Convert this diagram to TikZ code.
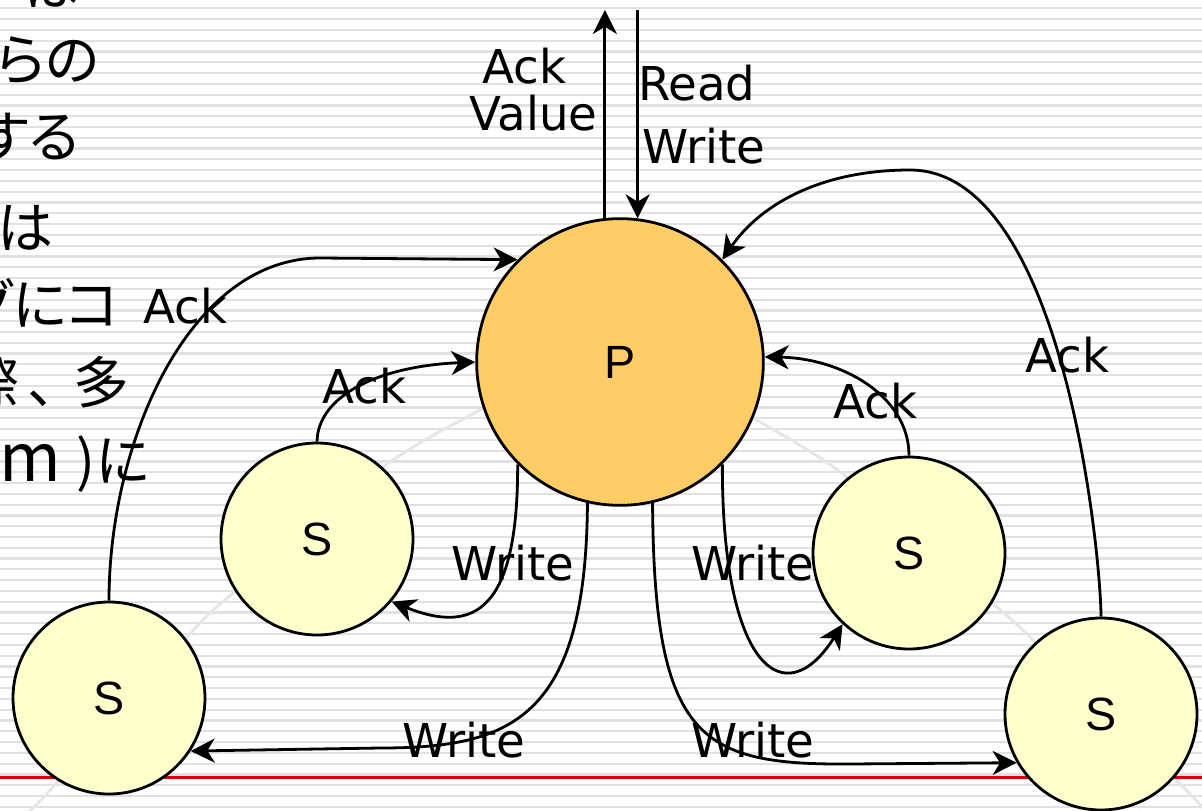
\documentclass[tikz,border=0pt]{standalone}
\usepackage{fontspec}
\setmainfont{DejaVu Sans}
\newfontfamily\jpfont[RawFeature=+palt]{Noto Sans CJK JP}
\newfontfamily\arialfont{Liberation Sans}
\usetikzlibrary{arrows.meta}
\definecolor{pfill}{RGB}{255,204,102}
\definecolor{sfill}{RGB}{255,255,204}
\definecolor{stripecol}{RGB}{225,225,225}
\definecolor{faintcol}{RGB}{230,230,230}
\definecolor{redcol}{RGB}{215,0,0}
\begin{document}
\begin{tikzpicture}[x=0.75pt,y=-0.75pt,
  conn/.style={line width=2.1pt,-{Stealth[length=18pt,width=18pt,inset=5.5pt]}},
  lbl/.style={font=\fontsize{35}{42}\selectfont,inner sep=0pt},
  jp/.style={font=\jpfont\fontsize{42}{58}\selectfont,inner sep=0pt,anchor=base east},
  pnode/.style={circle,draw,line width=2.1pt,fill=pfill,minimum size=215pt,inner sep=0pt,font=\arialfont\fontsize{35}{42}\selectfont},
  snode/.style={circle,draw,line width=2.1pt,fill=sfill,minimum size=144pt,inner sep=0pt,font=\arialfont\fontsize{35}{42}\selectfont},
  stripe/.style={draw=stripecol,line width=1.65pt},
  faint/.style={draw=faintcol,line width=2.2pt}]
\useasboundingbox (0,0) rectangle (1202,810);
\clip (0,0) rectangle (1202,810);
\fill[white] (0,0) rectangle (1202,810);
\foreach \k in {0,...,75} \draw[stripe] (0,{8.3+10.79*\k}) -- (1202,{8.3+10.79*\k});
% faint background arcs
\draw[faint] plot[smooth] coordinates {(505,396) (480,410) (383,467) (233,593) (187,637) (53,787) (25,815)};
\draw[faint] plot[smooth] coordinates {(740,410) (757,420) (847,477) (997,607) (1033,640) (1173,777) (1210,815)};
% red line
\draw[draw=redcol,line width=2pt] (0,777.5) -- (1202,777.5);
% clipped Japanese text
\node[jp] (j0) at (80,5) {は};
\node[jp] (j1) at (100,80) {からの};
\node[jp] (j2) at (80,157) {にする};
\node[jp] (j3) at (54,248) {側は};
\node[jp] (j4) at (120,325) {ログにコ};
\node[jp] (j5) at (130,403) {の際\kern7pt、\kern13pt 多};
\node[jp] (j6) at (150,481) {{\fontsize{50}{58}\selectfont quorum}\kern12pt)に};
% nodes
\node[pnode] (P) at (620,362) {P};
\node[snode] (S1) at (317,539) {S};
\node[snode] (S2) at (909,553) {S};
\node[snode] (S3) at (109,698) {S};
\node[snode] (S4) at (1101,714) {S};
\coordinate (upend) at (604,10);
\coordinate (downstart) at (637,10);
% connectors
\draw[conn] (P.96) -- (P.96 |- upend);
\draw[conn] (P.83 |- downstart) -- (P.83);
\draw[conn] (S3.north) .. controls (109,440) and (190,258) .. (320,258) -- (P.135);
\draw[conn] (S1.north) .. controls (318,395) and (380,366) .. (P.west);
\draw[conn] (S2.north) .. controls (909,395) and (840,358) .. (P.2);
\draw[conn] (P.225) .. controls (518,610) and (475,635) .. (S1.-40);
\draw[conn] (P.-45) .. controls (722,670) and (785,715) .. (S2.227);
\draw[conn] (P.257) .. controls (586,720) and (510,748) .. (380,748) -- (S3.-33);
\draw[conn] (P.-77) .. controls (654,740) and (700,765) .. (850,764) -- (S4.210);
\draw[conn] (S4.north) .. controls (1101,560) and (1065,170) .. (910,170) .. controls (820,170) and (760,205) .. (P.45);
% labels
\node[lbl,anchor=base west] (lack1) at (482,83) {Ack};
\node[lbl,anchor=base west] (lval) at (469,130) {Value};
\node[lbl,anchor=base west] (lread) at (638,100) {Read};
\node[lbl,anchor=base west] (lwrite0) at (642,163) {Write};
\node[lbl,anchor=base west] (lack2) at (143,323) {Ack};
\node[lbl,anchor=base west] (lack3) at (322,403) {Ack};
\node[lbl,anchor=base west] (lack4) at (833,418) {Ack};
\node[lbl,anchor=base west] (lack5) at (1025,372) {Ack};
\node[lbl,anchor=base west] (lw1) at (451,580) {Write};
\node[lbl,anchor=base west] (lw2) at (691,580) {Write};
\node[lbl,anchor=base west] (lw3) at (402,757) {Write};
\node[lbl,anchor=base west] (lw4) at (691,757) {Write};
\end{tikzpicture}
\end{document}
